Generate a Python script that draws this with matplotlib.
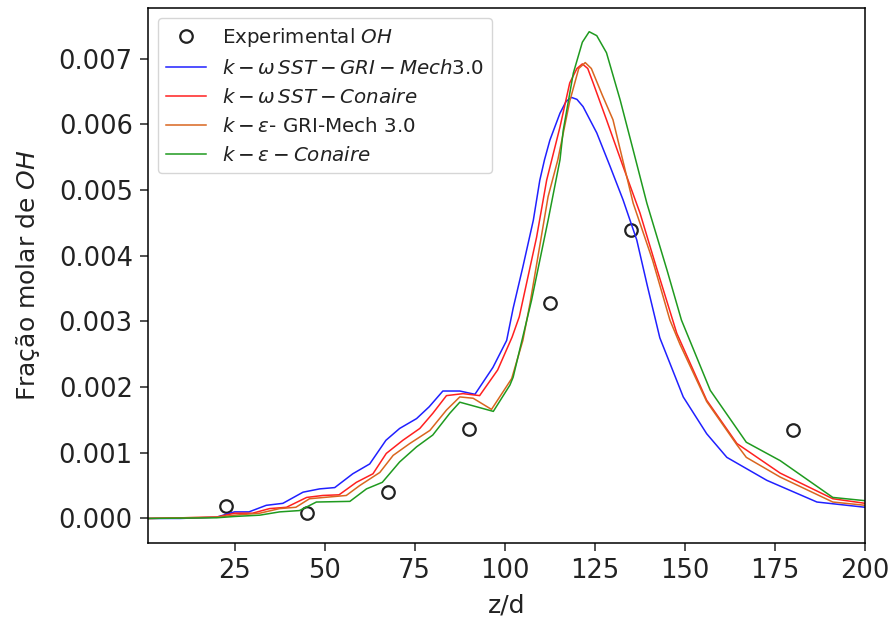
import matplotlib
matplotlib.use("Agg")
import matplotlib.pyplot as plt
from matplotlib.ticker import FormatStrFormatter

# dados experimentais
x_exp = [22.5, 45, 67.5, 90, 112.5, 135, 180]
y_exp = [0.00019, 0.00009, 0.00040, 0.00136, 0.00328, 0.00439, 0.00134]

# k-omega SST GRI-Mech 3.0
x_sst_gri = [1, 10, 20, 25, 29, 33.8, 38.4, 44, 48.6, 52.8, 57.8, 62.5, 67, 70.8, 75.5, 79, 82.8,
             87.5, 91.7, 96.7, 100.5, 102.3, 105, 107.9, 109.7, 111, 112.5, 115.3, 117, 118.5, 120,
             121.7, 125.5, 129.2, 132.8, 136.6, 139.5, 143, 149.5, 156, 161.6, 172.7, 186.6, 200]
y_sst_gri = [0, 0, 0.00002, 0.0001, 0.0001, 0.0002, 0.00023, 0.0004, 0.00045, 0.00047, 0.00068,
             0.00083, 0.00119, 0.00137, 0.00152, 0.0017, 0.00194, 0.00194, 0.00189, 0.0023, 0.00271,
             0.0032, 0.00383, 0.00454, 0.00515, 0.00546, 0.00576, 0.00617, 0.00635, 0.00641, 0.00638,
             0.00627, 0.00587, 0.00536, 0.00485, 0.00424, 0.00355, 0.00275, 0.00185, 0.00129, 0.00093,
             0.00058, 0.00025, 0.00017]

# k-omega SST Conaire
x_sst_con = [1, 20, 25, 30, 34.7, 39.4, 45, 49.5, 54, 58.8, 63.4, 67.1, 71.7, 76.4, 80, 83.8, 88.4,
             93, 98, 102, 104, 108.8, 111.6, 115.3, 118, 120, 121.5, 123, 124.5, 128.2, 132.8, 137.5,
             142, 147.7, 156, 164.4, 176.4, 191, 200]
y_sst_con = [0, 0.00002, 0.00008, 0.00008, 0.00015, 0.00017, 0.00032, 0.00035, 0.00036, 0.00055,
             0.00068, 0.00099, 0.00119, 0.00137, 0.0016, 0.00187, 0.0019, 0.00187, 0.00226, 0.00276,
             0.00307, 0.00428, 0.00515, 0.00596, 0.00663, 0.00685, 0.00692, 0.00685, 0.00663, 0.00607,
             0.00536, 0.00465, 0.00383, 0.00282, 0.0018, 0.00114, 0.00069, 0.0003, 0.00023]

# k-epsilon GRI-Mech 3.0
x_ke_gri = [1, 20, 25, 32, 37.5, 42, 45.8, 56, 59.7, 65.3, 69, 73.6, 79.2, 83.8, 87.5, 91.2, 96.3,
            101.9, 105, 107, 112, 114.7, 118, 120.5, 122.3, 124, 127, 130, 135.6, 141, 145.8, 148.6,
            156, 164.4, 167, 176.4, 191, 200]
y_ke_gri = [0, 0.00002, 0.00005, 0.00008, 0.00015, 0.00017, 0.0003, 0.00035, 0.0005, 0.0007, 0.00096,
            0.00114, 0.00134, 0.00165, 0.00185, 0.00183, 0.00166, 0.00213, 0.00271, 0.00328, 0.0049,
            0.00546, 0.00635, 0.00685, 0.00694, 0.00685, 0.00645, 0.00607, 0.0048, 0.00393, 0.00302,
            0.00265, 0.00178, 0.00112, 0.00093, 0.00063, 0.00025, 0.0002]

# k-epsilon Conaire
x_ke_con = [1, 20, 25, 32, 37.5, 43, 47.7, 57, 61.6, 66, 70.8, 75.5, 80, 84.7, 87.5, 96.8, 101.4,
            102.3, 107.4, 112, 115.3, 116.2, 119, 121.5, 123.4, 125.5, 128.2, 132, 135.6, 139.4, 145,
            149, 157, 167, 176.4, 191, 200]
y_ke_con = [0, 0.00001, 0.00003, 0.00005, 0.0001, 0.00012, 0.00025, 0.00026, 0.00045, 0.00055,
            0.00086, 0.00109, 0.00127, 0.0016, 0.00177, 0.00163, 0.00203, 0.00215, 0.00332, 0.00454,
            0.00546, 0.00591, 0.00678, 0.00725, 0.00741, 0.00735, 0.00709, 0.00637, 0.00561, 0.0048,
            0.00378, 0.00302, 0.00195, 0.00116, 0.00088, 0.00032, 0.00027]

plt.rcParams['text.color'] = '#222222'
plt.rcParams['xtick.color'] = '#222222'
plt.rcParams['ytick.color'] = '#222222'
plt.rcParams['axes.labelcolor'] = '#222222'

fig = plt.figure(figsize=(8.92, 6.21), dpi=100)
ax = fig.add_axes([0.166, 0.126, 0.804, 0.861])

ax.plot(x_exp, y_exp, 'o', mfc='none', mec='#222222', mew=1.6, ms=9, label='Experimental $OH$')
ax.plot(x_sst_gri, y_sst_gri, color='#2020ff', lw=1.1, label=r'$k-\omega\,SST-GRI-Mech3.0$')
ax.plot(x_sst_con, y_sst_con, color='#ff2020', lw=1.1, label=r'$k-\omega\,SST-Conaire$')
ax.plot(x_ke_gri, y_ke_gri, color='#d9661f', lw=1.1, label=r'$k-\varepsilon$- GRI-Mech 3.0')
ax.plot(x_ke_con, y_ke_con, color='#1f9a1f', lw=1.1, label=r'$k-\varepsilon-Conaire$')

ax.set_xlim(1, 200)
ax.set_ylim(-0.00037, 0.00777)
ax.set_xticks([25, 50, 75, 100, 125, 150, 175, 200])
ax.set_yticks([0.000, 0.001, 0.002, 0.003, 0.004, 0.005, 0.006, 0.007])
ax.yaxis.set_major_formatter(FormatStrFormatter('%.3f'))
ax.tick_params(labelsize=18.5, length=5.5, width=1.1, pad=5.5)
for s in ax.spines.values():
    s.set_linewidth(1.1)
ax.set_xlabel('z/d', fontsize=18, labelpad=7)
ax.set_ylabel('Fração molar de $OH$', fontsize=18, labelpad=12)
ax.legend(loc='upper left', fontsize=14.3)

fig.savefig('out.png', dpi=100)
